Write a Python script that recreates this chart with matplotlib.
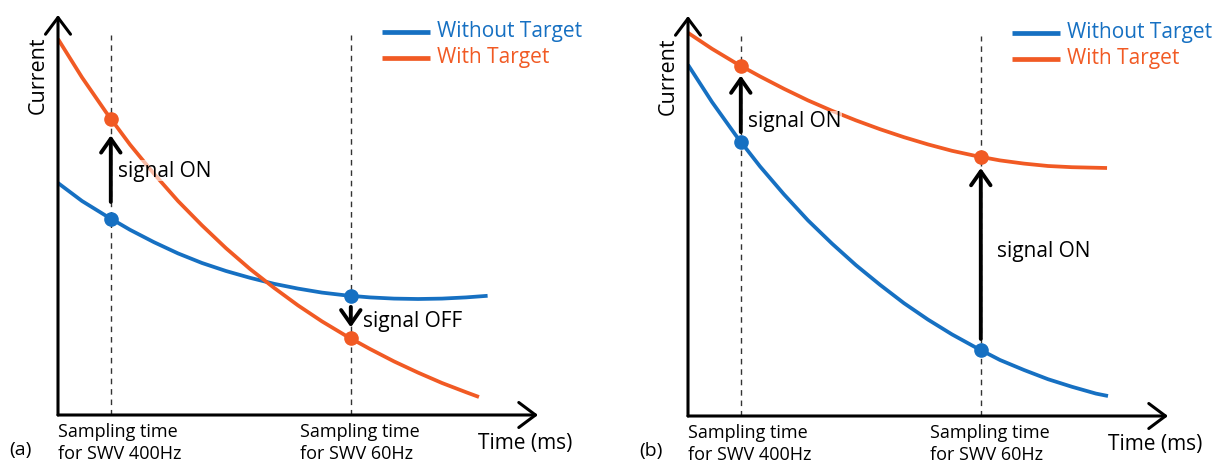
import numpy as np
import matplotlib.pyplot as plt

plt.rcParams['font.family'] = ['Open Sans', 'DejaVu Sans']

BLUE = '#1670c2'
ORANGE = '#f15a24'

# time axis (arbitrary units, 0..100) and sampling times
t_a = [0, 5, 10, 15, 20, 25, 30, 35, 40, 45, 50, 55, 60, 65, 70, 75, 80, 85, 87.7]
with_a = [94.0, 84.4, 75.7, 67.6, 60.3, 53.5, 47.4, 41.7, 36.5, 31.8, 27.4, 23.4,
          19.8, 16.5, 13.4, 10.6, 8.0, 5.7, 4.5]
t_a2 = [0, 5, 10, 15, 20, 25, 30, 35, 40, 45, 50, 55, 60, 65, 70, 75, 80, 85, 89.5]
without_a = [58.0, 53.5, 49.8, 46.3, 43.2, 40.4, 38.0, 36.0, 34.3, 32.8, 31.6, 30.6,
             29.9, 29.4, 29.1, 29.0, 29.1, 29.4, 29.8]

t_b = [0, 5, 10, 15, 20, 25, 30, 35, 40, 45, 50, 55, 60, 65, 70, 75, 80, 87.3]
with_b = [95.8, 91.8, 88.2, 84.9, 81.8, 78.9, 76.3, 73.9, 71.7, 69.7, 67.9, 66.3,
          65.0, 63.9, 63.1, 62.5, 62.2, 62.0]
t_b2 = [0, 5, 10, 15, 20, 25, 30, 35, 40, 45, 50, 55, 60, 65, 70, 75, 80, 85, 87.5]
without_b = [87.8, 78.5, 70.1, 62.4, 55.4, 48.9, 43.1, 37.7, 32.8, 28.2, 24.1, 20.4,
             17.1, 14.0, 11.5, 9.2, 7.3, 5.6, 5.0]

sample_times = [11, 61]
sample_labels = ['Sampling time\nfor SWV 400Hz', 'Sampling time\nfor SWV 60Hz']

panels = [
    dict(pos=[58 / 1214, 50 / 465, 480 / 1214, 400 / 465], tag='(a)',
         t_with=t_a, with_=with_a, t_without=t_a2, without=without_a,
         signals=[('signal ON', 10, 12.6, 61.0), ('signal OFF', 6, 63.6, 23.5)]),
    dict(pos=[688 / 1214, 49 / 465, 480 / 1214, 400 / 465], tag='(b)',
         t_with=t_b, with_=with_b, t_without=t_b2, without=without_b,
         signals=[('signal ON', 5, 12.6, 73.5), ('signal ON', 6, 64.4, 41.0)]),
]

fig = plt.figure(figsize=(12.14, 4.65), dpi=100)

for p in panels:
    ax = fig.add_axes(p['pos'])
    ax.set_xlim(0, 100)
    ax.set_ylim(0, 100)
    ax.axis('off')

    # axes drawn as arrows
    arrow_kw = dict(arrowstyle='->, head_length=0.6, head_width=0.45',
                    lw=2.2, color='black', mutation_scale=20, shrinkA=0, shrinkB=0)
    ax.annotate('', xy=(1.0, 0), xytext=(0, 0), xycoords='axes fraction',
                arrowprops=arrow_kw, annotation_clip=False)
    ax.annotate('', xy=(0, 1.0), xytext=(0, 0), xycoords='axes fraction',
                arrowprops=arrow_kw, annotation_clip=False)

    for ts in sample_times:
        ax.plot([ts, ts], [0, 95], ls=(0, (4, 3.5)), lw=1.0, color='#333333', zorder=1)

    ax.plot(p['t_without'], p['without'], color=BLUE, lw=2.7, zorder=2,
            solid_capstyle='butt')
    ax.plot(p['t_with'], p['with_'], color=ORANGE, lw=2.7, zorder=2,
            solid_capstyle='butt')

    # sampled points and signal arrows
    for ts, (label, gap, tx, ty) in zip(sample_times, p['signals']):
        lo = np.interp(ts, p['t_without'], p['without'])
        hi = np.interp(ts, p['t_with'], p['with_'])
        ax.plot([ts], [lo], 'o', color=BLUE, ms=9.5, zorder=4)
        ax.plot([ts], [hi], 'o', color=ORANGE, ms=9.5, zorder=4)
        ax.annotate('', xy=(ts, hi), xytext=(ts, lo),
                    arrowprops=dict(arrowstyle='->, head_length=0.5, head_width=0.35',
                                    lw=2.8, color='black', mutation_scale=20,
                                    shrinkA=gap + 2, shrinkB=gap + 2), zorder=3)
        ax.text(tx, ty, label, fontsize=15, ha='left', va='center', zorder=5,
                bbox=dict(facecolor='white', edgecolor='none', alpha=0.6, pad=0))

    # legend
    ax.plot([67.6, 77.4], [95.8, 95.8], color=BLUE, lw=3.4, clip_on=False,
            solid_capstyle='butt')
    ax.plot([67.6, 77.4], [89.3, 89.3], color=ORANGE, lw=3.4, clip_on=False,
            solid_capstyle='butt')
    ax.text(79.0, 95.8, 'Without Target', color=BLUE, fontsize=15, va='center')
    ax.text(79.0, 89.3, 'With Target', color=ORANGE, fontsize=15, va='center')

    ax.text(-4.2, 85.0, 'Current', rotation=90, fontsize=15.5, ha='center', va='center')
    ax.text(87.6, -7.0, 'Time (ms)', fontsize=15, ha='left', va='center')
    ax.text(-7.8, -8.8, p['tag'], fontsize=14, ha='center', va='center')
    for x0, lab in zip([0, 50.4], sample_labels):
        ax.text(x0, -2.0, lab, fontsize=13, ha='left', va='top', linespacing=1.25)

fig.savefig('out.png', dpi=100)
